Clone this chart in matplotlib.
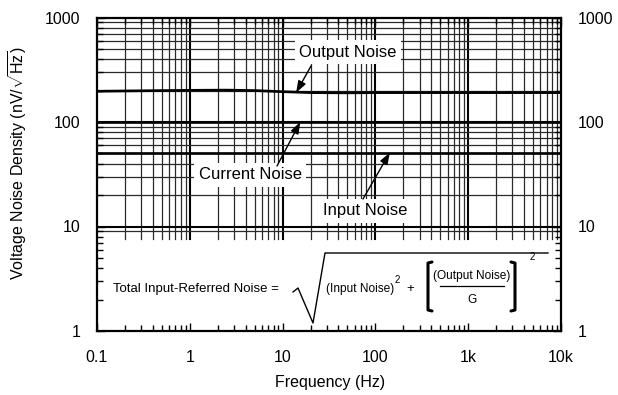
import numpy as np
import matplotlib
matplotlib.use("Agg")
import matplotlib.pyplot as plt
from matplotlib.lines import Line2D

plt.rcParams['font.family'] = ['Liberation Sans', 'DejaVu Sans']
plt.rcParams['mathtext.fontset'] = 'custom'
plt.rcParams['mathtext.rm'] = 'Liberation Sans'
plt.rcParams['mathtext.it'] = 'Liberation Sans:italic'

# noise curves (Hz, nV/rtHz)
freq_out = [0.1, 0.3, 1, 2.5, 5, 10, 20, 50, 100, 1000, 10000]
output_noise = [197, 199, 201, 202, 200, 195, 191, 190, 191, 191, 191]
freq_flat = [0.1, 10000]
current_noise = [100, 100]
input_noise = [51, 51]

xticks = [0.1, 1, 10, 100, 1000, 10000]
xlabels = ['0.1', '1', '10', '100', '1k', '10k']
yticks = [1, 10, 100, 1000]
ylabels = ['1', '10', '100', '1000']

W, H = 618, 395


def px(x, y):
    # pixel position (from top-left) -> figure fraction
    return x / W, 1 - y / H


fig = plt.figure(figsize=(W / 100, H / 100), dpi=100)
ax = fig.add_axes([97 / W, 1 - 331 / H, 464 / W, 313.5 / H])
ax.set_xscale('log')
ax.set_yscale('log')
ax.set_xlim(0.1, 10000)
ax.set_ylim(1, 1000)

# grid, stopped above the formula box
box_top = 0.293
for d in [0.1, 1, 10, 100, 1000]:
    for m in range(1, 10):
        x = d * m
        if x <= 0.1 or x >= 10000:
            continue
        lw, c = (1.5, 'black') if m == 1 else (0.9, '#2a2a2a')
        ax.axvline(x, ymin=box_top, ymax=1, color=c, lw=lw, zorder=1)
for d in [1, 10, 100]:
    for m in range(1, 10):
        y = d * m
        if y < 9 or y >= 1000:
            continue
        lw, c = (1.5, 'black') if m == 1 else (0.9, '#2a2a2a')
        ax.axhline(y, color=c, lw=lw, zorder=1)

ax.plot(freq_out, output_noise, color='black', lw=1.9, zorder=3)
ax.plot(freq_flat, current_noise, color='black', lw=1.9, zorder=3)
ax.plot(freq_flat, input_noise, color='black', lw=1.9, zorder=3)

for s in ax.spines.values():
    s.set_linewidth(1.6)
    s.set_zorder(5)

ax.set_xticks(xticks)
ax.set_xticklabels(xlabels)
ax.set_yticks(yticks)
ax.set_yticklabels(ylabels)
ax.tick_params(which='both', direction='in', top=True, right=True,
               labelright=True, labelsize=11.5, width=1, color='black')
ax.tick_params(which='major', length=6)
ax.tick_params(which='minor', length=4)
ax.tick_params(axis='x', pad=14)
ax.tick_params(axis='y', pad=12)
ax.yaxis.set_minor_formatter(matplotlib.ticker.NullFormatter())
ax.xaxis.set_minor_formatter(matplotlib.ticker.NullFormatter())

fig.text(*px(330, 383), 'Frequency (Hz)', ha='center', va='center', fontsize=11.5)
fig.text(*px(18, 163), r'Voltage Noise Density (nV/$\sqrt{\mathrm{Hz}}$)',
         ha='center', va='center', rotation=90, fontsize=11.5)

# curve labels with arrows
lab_box = dict(boxstyle='square,pad=0.25', fc='white', ec='none')
arrow = dict(arrowstyle='-|>,head_length=0.7,head_width=0.25', color='black',
             lw=1.0, shrinkA=0, shrinkB=0)
labels = [
    ('Output Noise', (348, 52), (311, 66), (14, output_noise[6])),
    ('Current Noise', (250, 175), (277, 166), (15.5, current_noise[0])),
    ('Input Noise', (365, 211), (363, 199), (143, input_noise[0])),
]
for txt, tpos, tail, head in labels:
    ax.text(*px(*tpos), txt, transform=fig.transFigure, ha='center',
            va='center', fontsize=12, bbox=lab_box, zorder=4)
    ax.annotate('', xy=head, xycoords='data', xytext=px(*tail),
                textcoords='figure fraction', arrowprops=arrow, zorder=4)

# formula
fs = 9.5
fig.text(*px(113, 289), 'Total Input-Referred Noise =', ha='left', va='center', fontsize=fs)
rad = [px(293, 292), px(298, 288), px(313, 323), px(325, 253), px(548, 253)]
fig.add_artist(Line2D([p[0] for p in rad], [p[1] for p in rad], color='black',
                      lw=1.0, transform=fig.transFigure))
fig.text(*px(326, 289), '(Input Noise)', ha='left', va='center', fontsize=8.6)
fig.text(*px(395, 280), '2', ha='left', va='center', fontsize=7)
fig.text(*px(410, 289), '+', ha='center', va='center', fontsize=fs)
for xs, ys in [([432, 428, 428, 432], [262, 263, 310, 311]),
               ([511, 515, 515, 511], [262, 263, 310, 311])]:
    pts = [px(x, y) for x, y in zip(xs, ys)]
    fig.add_artist(Line2D([p[0] for p in pts], [p[1] for p in pts], color='black',
                          lw=2.2, transform=fig.transFigure, solid_capstyle='round'))
fig.text(*px(472, 276), '(Output Noise)', ha='center', va='center', fontsize=8.6)
fl = [px(440, 286), px(504, 286)]
fig.add_artist(Line2D([fl[0][0], fl[1][0]], [fl[0][1], fl[1][1]], color='black',
                      lw=0.9, transform=fig.transFigure))
fig.text(*px(472, 300), 'G', ha='center', va='center', fontsize=8.6)
fig.text(*px(530, 257), '2', ha='left', va='center', fontsize=7)

fig.savefig('out.png', dpi=100)
